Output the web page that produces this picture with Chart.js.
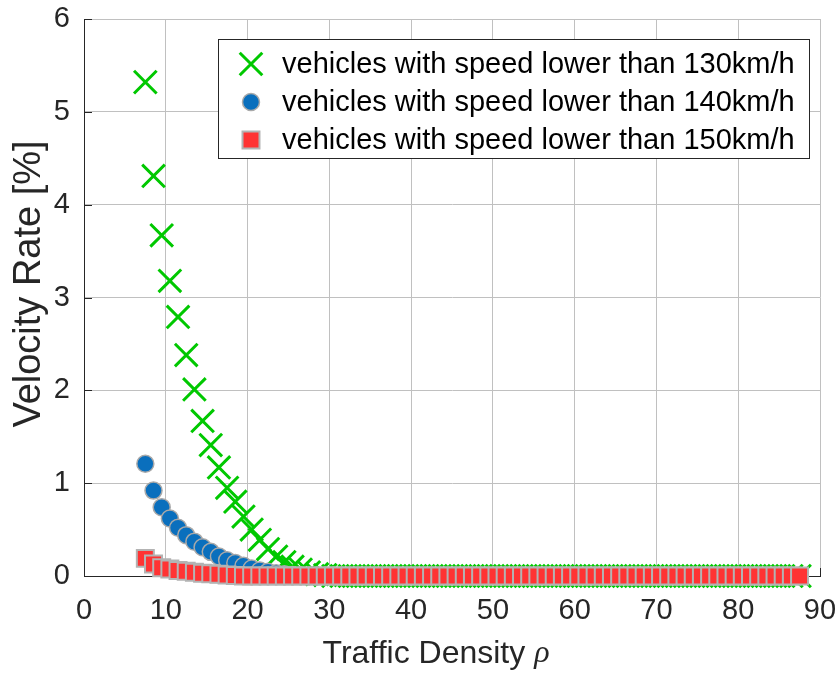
<!DOCTYPE html>
<html>
<head>
<meta charset="utf-8">
<script src="https://cdn.jsdelivr.net/npm/chart.js@4/dist/chart.umd.min.js"></script>
<style>
html,body{margin:0;padding:0;background:#fff;}
#wrap{width:839px;height:677px;position:relative;}
</style>
</head>
<body>
<div id="wrap"><canvas id="c" width="839" height="677"></canvas></div>
<script>
// ---- data ----
const density = [7.5, 8.5, 9.5, 10.5, 11.5, 12.5, 13.5, 14.5, 15.5, 16.5,
  17.5, 18.5, 19.5, 20.5, 21.5, 22.5, 23.5, 24.5, 25.5, 26.5,
  27.5, 28.5, 29.5, 30.5, 31.5, 32.5, 33.5, 34.5, 35.5, 36.5,
  37.5, 38.5, 39.5, 40.5, 41.5, 42.5, 43.5, 44.5, 45.5, 46.5,
  47.5, 48.5, 49.5, 50.5, 51.5, 52.5, 53.5, 54.5, 55.5, 56.5,
  57.5, 58.5, 59.5, 60.5, 61.5, 62.5, 63.5, 64.5, 65.5, 66.5,
  67.5, 68.5, 69.5, 70.5, 71.5, 72.5, 73.5, 74.5, 75.5, 76.5,
  77.5, 78.5, 79.5, 80.5, 81.5, 82.5, 83.5, 84.5, 85.5, 86.5, 87.5];

const rate130 = [5.32, 4.31, 3.67, 3.18, 2.79, 2.38, 2.01, 1.67, 1.41, 1.17,
  0.95, 0.80, 0.64, 0.50, 0.39, 0.29, 0.21, 0.15, 0.10, 0.07,
  0.04, 0.02, 0.01, 0, 0, 0, 0, 0, 0, 0,
  0, 0, 0, 0, 0, 0, 0, 0, 0, 0,
  0, 0, 0, 0, 0, 0, 0, 0, 0, 0,
  0, 0, 0, 0, 0, 0, 0, 0, 0, 0,
  0, 0, 0, 0, 0, 0, 0, 0, 0, 0,
  0, 0, 0, 0, 0, 0, 0, 0, 0, 0, 0];

const rate140 = [1.21, 0.92, 0.74, 0.62, 0.52, 0.44, 0.37, 0.31, 0.26, 0.21,
  0.17, 0.14, 0.11, 0.08, 0.06, 0.045, 0.03, 0.02, 0.01, 0.005,
  0, 0, 0, 0, 0, 0, 0, 0, 0, 0,
  0, 0, 0, 0, 0, 0, 0, 0, 0, 0,
  0, 0, 0, 0, 0, 0, 0, 0, 0, 0,
  0, 0, 0, 0, 0, 0, 0, 0, 0, 0,
  0, 0, 0, 0, 0, 0, 0, 0, 0, 0,
  0, 0, 0, 0, 0, 0, 0, 0, 0, 0, 0];

const rate150 = [0.19, 0.13, 0.09, 0.075, 0.06, 0.05, 0.04, 0.03, 0.025, 0.02,
  0.01, 0.005, 0, 0, 0, 0, 0, 0, 0, 0,
  0, 0, 0, 0, 0, 0, 0, 0, 0, 0,
  0, 0, 0, 0, 0, 0, 0, 0, 0, 0,
  0, 0, 0, 0, 0, 0, 0, 0, 0, 0,
  0, 0, 0, 0, 0, 0, 0, 0, 0, 0,
  0, 0, 0, 0, 0, 0, 0, 0, 0, 0,
  0, 0, 0, 0, 0, 0, 0, 0, 0, 0, 0];

const seriesLabels = [
  'vehicles with speed lower than 130km/h',
  'vehicles with speed lower than 140km/h',
  'vehicles with speed lower than 150km/h'
];
const xTickValues = [0, 10, 20, 30, 40, 50, 60, 70, 80, 90];
const yTickValues = [0, 1, 2, 3, 4, 5, 6];
const xTitle = 'Traffic Density ';
const xTitleSymbol = 'ρ';
const yTitle = 'Velocity Rate [%]';

// ---- styling ----
const FONT = '"Liberation Sans", Arial, Helvetica, sans-serif';
const AXIS_COLOR = '#262626';
const GRID_COLOR = '#c0c0c0';

const styles = [
  {pointStyle: 'crossRot', pointRadius: 16, borderWidth: 3, borderColor: '#00c800', backgroundColor: '#00c800', order: 3},
  {pointStyle: 'circle', pointRadius: 8.5, borderWidth: 1.5, borderColor: '#a9a9a9', backgroundColor: '#0a6fbd', order: 2},
  {pointStyle: 'rect', pointRadius: 12, borderWidth: 2, borderColor: '#b3b3b3', backgroundColor: '#ff3333', order: 1}
];
const seriesValues = [rate130, rate140, rate150];

const datasets = seriesValues.map((vals, k) => ({
  label: seriesLabels[k],
  data: density.map((x, i) => ({x: x, y: vals[i]})),
  showLine: false,
  clip: false,
  pointStyle: styles[k].pointStyle,
  pointRadius: styles[k].pointRadius,
  pointHoverRadius: styles[k].pointRadius,
  pointBorderWidth: styles[k].borderWidth,
  pointBorderColor: styles[k].borderColor,
  pointBackgroundColor: styles[k].backgroundColor,
  borderColor: styles[k].borderColor,
  backgroundColor: styles[k].backgroundColor,
  order: styles[k].order
}));

function drawMarker(ctx, style, x, y) {
  ctx.save();
  ctx.lineWidth = style.borderWidth;
  ctx.strokeStyle = style.borderColor;
  ctx.fillStyle = style.backgroundColor;
  const r = style.pointRadius;
  ctx.beginPath();
  if (style.pointStyle === 'crossRot') {
    const h = r * Math.SQRT1_2;
    ctx.moveTo(x - h, y - h); ctx.lineTo(x + h, y + h);
    ctx.moveTo(x + h, y - h); ctx.lineTo(x - h, y + h);
    ctx.stroke();
  } else if (style.pointStyle === 'circle') {
    ctx.arc(x, y, r, 0, Math.PI * 2);
    ctx.fill(); ctx.stroke();
  } else {
    const h = r * Math.SQRT1_2;
    ctx.rect(x - h, y - h, 2 * h, 2 * h);
    ctx.fill(); ctx.stroke();
  }
  ctx.restore();
}

const frame = {
  id: 'frame',
  beforeDatasetsDraw(chart) {
    const {ctx, chartArea: a, scales: {x, y}} = chart;
    ctx.save();
    ctx.strokeStyle = AXIS_COLOR;
    ctx.lineWidth = 1;
    ctx.beginPath();
    xTickValues.forEach(v => {
      const px = Math.round(x.getPixelForValue(v)) + 0.5;
      ctx.moveTo(px, a.bottom); ctx.lineTo(px, a.bottom - 8);
    });
    yTickValues.forEach(v => {
      const py = Math.round(y.getPixelForValue(v)) + 0.5;
      ctx.moveTo(a.left, py); ctx.lineTo(a.left + 8, py);
    });
    ctx.stroke();
    ctx.restore();
  },
  afterDraw(chart) {
    const {ctx, chartArea: a} = chart;
    ctx.save();
    // axis titles
    ctx.fillStyle = AXIS_COLOR;
    ctx.textBaseline = 'middle';
    ctx.font = '32px ' + FONT;
    const w1 = ctx.measureText(xTitle).width;
    ctx.font = 'italic 32px "Liberation Serif", "DejaVu Serif", serif';
    const w2 = ctx.measureText(xTitleSymbol).width;
    let sx = 436 - (w1 + w2) / 2;
    ctx.font = '32px ' + FONT;
    ctx.textAlign = 'left';
    ctx.fillText(xTitle, sx, 654);
    ctx.font = 'italic 32px "Liberation Serif", "DejaVu Serif", serif';
    ctx.fillText(xTitleSymbol, sx + w1, 654);

    ctx.translate(30, 284);
    ctx.rotate(-Math.PI / 2);
    ctx.font = '38px ' + FONT;
    ctx.textAlign = 'center';
    ctx.fillText(yTitle, 0, 0);
    ctx.restore();

    // legend box
    ctx.save();
    const bx = 218.5, by = 39.5, bw = 591, bh = 119;
    ctx.fillStyle = '#ffffff';
    ctx.fillRect(bx, by, bw, bh);
    ctx.strokeStyle = AXIS_COLOR;
    ctx.lineWidth = 1;
    ctx.strokeRect(bx, by, bw, bh);
    const rows = [64, 102, 140];
    ctx.font = '29px ' + FONT;
    ctx.textAlign = 'left';
    ctx.textBaseline = 'middle';
    seriesLabels.forEach((lab, k) => {
      drawMarker(ctx, styles[k], 251, rows[k]);
      ctx.fillStyle = '#000000';
      ctx.fillText(lab, 282, rows[k] + 1);
    });
    ctx.restore();
  }
};

new Chart(document.getElementById('c'), {
  type: 'scatter',
  data: {datasets: datasets},
  options: {
    responsive: false,
    animation: false,
    devicePixelRatio: 1,
    layout: {padding: {left: 0, top: 18, right: 18, bottom: 0}},
    plugins: {legend: {display: false}, tooltip: {enabled: false}},
    scales: {
      x: {
        type: 'linear',
        min: 0, max: 90,
        afterBuildTicks: s => { s.ticks = xTickValues.map(v => ({value: v})); },
        afterFit: s => { s.height = 101; s.paddingLeft = 0; s.paddingRight = 0; },
        grid: {color: GRID_COLOR, lineWidth: 1, drawTicks: false},
        border: {display: true, color: AXIS_COLOR, width: 1},
        ticks: {color: AXIS_COLOR, font: {family: FONT, size: 29}, padding: 18, maxRotation: 0}
      },
      y: {
        type: 'linear',
        min: 0, max: 6,
        afterBuildTicks: s => { s.ticks = yTickValues.map(v => ({value: v})); },
        afterFit: s => { s.width = 84; s.paddingTop = 0; s.paddingBottom = 0; },
        grid: {color: GRID_COLOR, lineWidth: 1, drawTicks: false},
        border: {display: true, color: AXIS_COLOR, width: 1},
        ticks: {color: AXIS_COLOR, font: {family: FONT, size: 29}, padding: 14}
      }
    }
  },
  plugins: [frame]
});
</script>
</body>
</html>
